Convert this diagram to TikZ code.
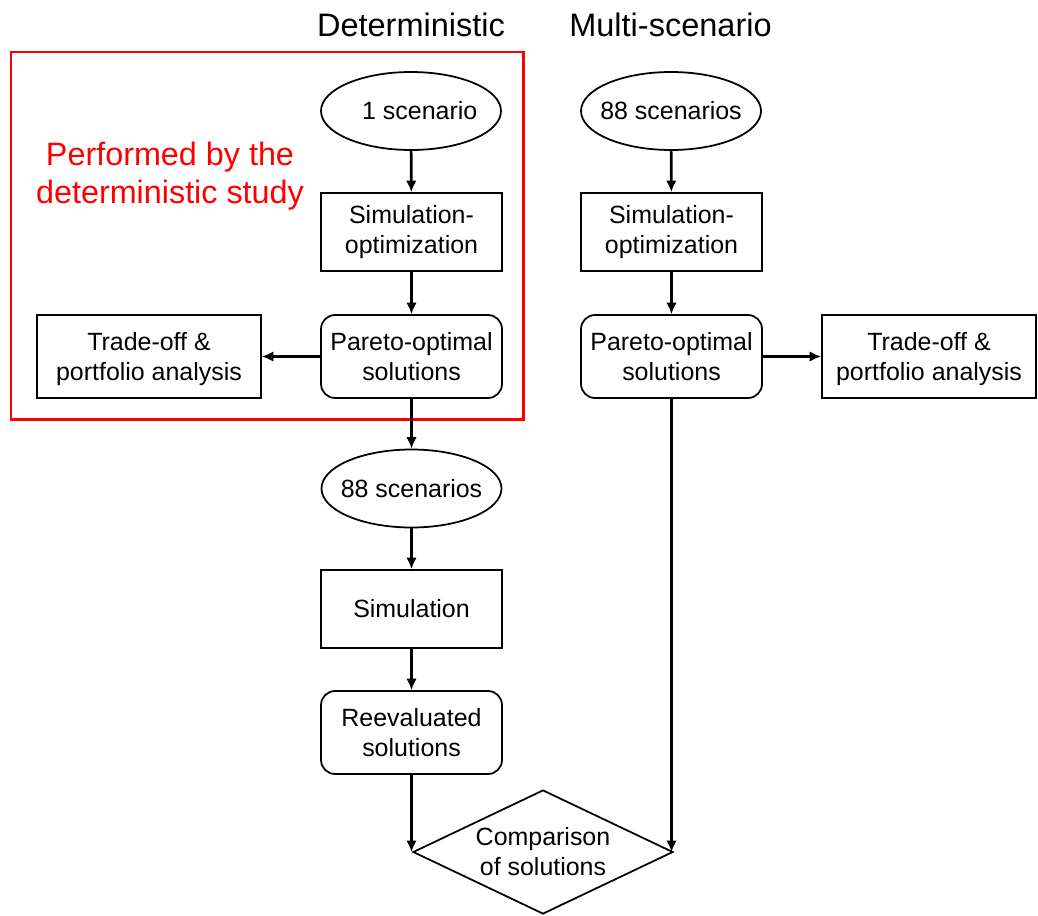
\documentclass[tikz,border=0pt]{standalone}
\usepackage{fontspec}
\setmainfont{Liberation Sans}
\usetikzlibrary{shapes.geometric,arrows.meta}
\definecolor{boxred}{HTML}{FF0000}

\begin{document}
\begin{tikzpicture}[
    every node/.style={font=\fontsize{14.2}{17}\selectfont,align=center,inner sep=0pt},
    oval/.style={draw,ellipse,line width=1pt,inner xsep=-0.2cm,minimum width=3.6cm,minimum height=1.56cm},
    blk/.style={draw,line width=1pt,minimum width=3.62cm,minimum height=1.56cm},
    rblk/.style={draw,rounded corners=8pt,line width=1pt,minimum width=3.62cm,minimum height=1.66cm},
    arr/.style={-{Latex[length=6.5pt,width=6pt]},line width=1.5pt},
    title/.style={font=\fontsize{18.5}{21}\selectfont}]
  \useasboundingbox (0,0) rectangle (20.76,-18.3);
  % headings
  \node[title] (hdet) at (8.22,-0.5) {Deterministic};
  \node[title] (hmul) at (13.41,-0.5) {Multi-scenario};
  % part done by the deterministic study
  \draw[boxred,line width=1.7pt] (0.22,-1.04) rectangle (10.46,-8.38);
  \node[text=boxred,font=\fontsize{18.4}{21.5}\selectfont] (perf) at (3.4,-3.53)
    {Performed by the\\deterministic study};
  % deterministic column
  \node[oval] (one) at (8.22,-2.22) {\hspace{0.35cm}1 scenario};
  \node[blk] (simopt1) at (8.23,-4.64) {Simulation-\\optimization};
  \node[rblk] (pareto1) at (8.23,-7.13) {Pareto-optimal\\solutions};
  \node[draw,line width=1pt,minimum width=4.48cm,minimum height=1.66cm] (trade1) at (2.98,-7.13)
    {Trade-off \&\\\raisebox{0pt}[\height][0pt]{portfolio analysis}};
  \node[oval] (sc88a) at (8.23,-9.77) {88 scenarios};
  \node[blk] (sim) at (8.23,-12.18) {Simulation};
  \node[rblk] (reeval) at (8.23,-14.65) {Reevaluated\\solutions};
  \node[draw,diamond,aspect=2.1,line width=1pt,minimum width=5.2cm,minimum height=2.48cm] (cmp)
    at (10.86,-17.04) {Comparison\\of solutions};
  % multi-scenario column
  \node[oval] (sc88b) at (13.42,-2.22) {88 scenarios};
  \node[blk] (simopt2) at (13.43,-4.64) {Simulation-\\optimization};
  \node[rblk] (pareto2) at (13.43,-7.13) {Pareto-optimal\\solutions};
  \node[draw,line width=1pt,minimum width=4.28cm,minimum height=1.66cm] (trade2) at (18.58,-7.13)
    {Trade-off \&\\\raisebox{0pt}[\height][0pt]{portfolio analysis}};
  % connectors
  \draw[arr] (one) -- (simopt1);
  \draw[arr] (simopt1) -- (pareto1);
  \draw[arr] (pareto1) -- (trade1);
  \draw[arr] (pareto1) -- (sc88a);
  \draw[arr] (sc88a) -- (sim);
  \draw[arr] (sim) -- (reeval);
  \draw[arr] (reeval.south) -- (reeval.south |- cmp.west);
  \draw[arr] (sc88b) -- (simopt2);
  \draw[arr] (simopt2) -- (pareto2);
  \draw[arr] (pareto2) -- (trade2);
  \draw[arr] (pareto2.south) -- (pareto2.south |- cmp.east);
\end{tikzpicture}
\end{document}
